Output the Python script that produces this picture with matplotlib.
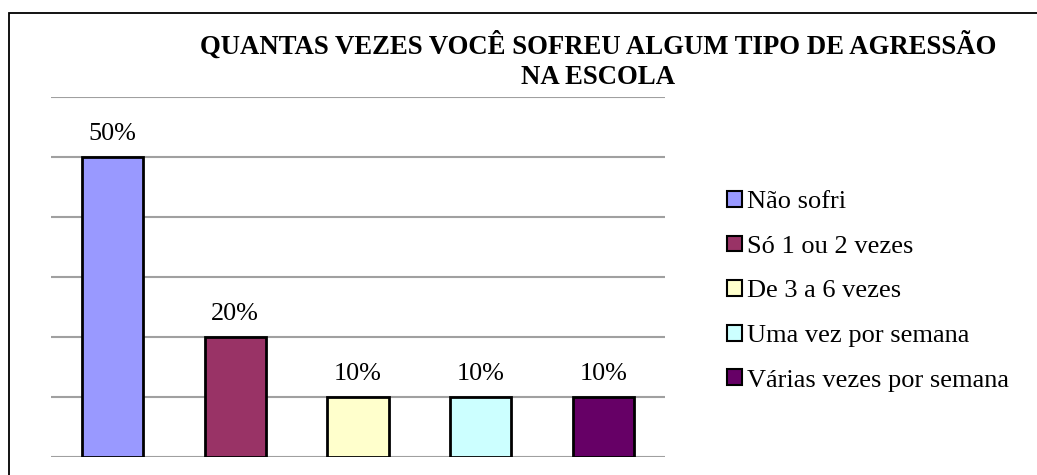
import matplotlib
matplotlib.use('Agg')
import matplotlib.pyplot as plt
from matplotlib.patches import Rectangle, Patch

plt.rcParams['font.family'] = ['Liberation Serif', 'DejaVu Serif']

categorias = ['Não sofri', 'Só 1 ou 2 vezes', 'De 3 a 6 vezes',
              'Uma vez por semana', 'Várias vezes por semana']
valores = [50, 20, 10, 10, 10]
rotulos = ['50%', '20%', '10%', '10%', '10%']
cores = ['#9999FF', '#993366', '#FFFFCC', '#CCFFFF', '#660066']
titulo = 'QUANTAS VEZES VOCÊ SOFREU ALGUM TIPO DE AGRESSÃO\nNA ESCOLA'

W, H = 1037, 475
fig = plt.figure(figsize=(W / 100, H / 100), dpi=100)

# moldura cortada (só topo e esquerda visíveis)
fig.patches.append(Rectangle((9 / W, -0.5), 2, (H - 13) / H + 0.5,
                             transform=fig.transFigure, fill=False,
                             edgecolor='black', linewidth=1.3))

ax = fig.add_axes([51 / W, (H - 457) / H, (665 - 51) / W, (457 - 97) / H])
x = list(range(len(valores)))
ax.bar(x, valores, width=0.5, color=cores, edgecolor='black', linewidth=2,
       zorder=3)
for xi, v, r in zip(x, valores, rotulos):
    ax.annotate(r, (xi, v), xytext=(0, 12.2), textcoords='offset points',
                ha='center', va='baseline', fontsize=18.8)

ax.set_xlim(-0.5, len(valores) - 0.5)
ax.set_ylim(0, 60)
ax.set_yticks(range(0, 61, 10))
ax.yaxis.grid(True, color='#a0a0a0', linewidth=1.5, zorder=0)
ax.set_xticks([])
ax.tick_params(left=False, labelleft=False)
for s in ax.spines.values():
    s.set_visible(False)

fig.text(598 / W, (H - 61) / H, titulo, ha='center', va='center',
         fontsize=19.3, fontweight='bold', linespacing=1.28)

handles = [Patch(facecolor=c, edgecolor='black', linewidth=1.5) for c in cores]
fig.legend(handles, categorias, loc='upper left',
           bbox_to_anchor=(727 / W, (H - 191) / H), frameon=False,
           fontsize=19, handlelength=0.55, handleheight=0.55,
           handletextpad=0.22, labelspacing=0.845, borderpad=0,
           borderaxespad=0)

fig.savefig('out.png', dpi=100)
